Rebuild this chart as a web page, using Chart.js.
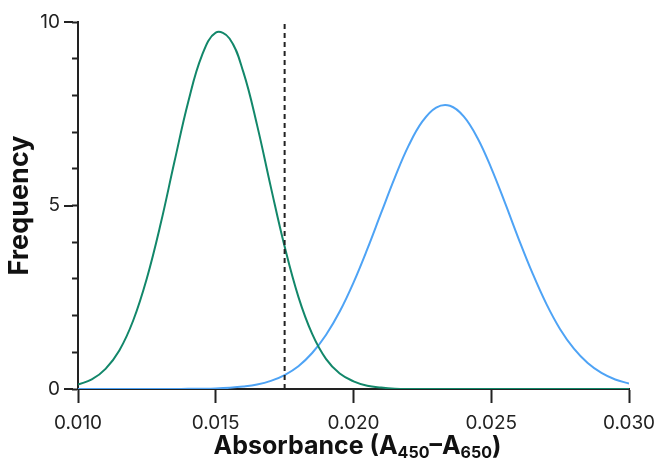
<!DOCTYPE html>
<html>
<head>
<meta charset="utf-8">
<script src="https://cdn.jsdelivr.net/npm/chart.js@4/dist/chart.umd.min.js"></script>
<style>
  html, body { margin: 0; padding: 0; background: #fff; }
  #wrap { width: 657px; height: 458px; position: relative; }
</style>
</head>
<body>
<div id="wrap"><canvas id="chart"></canvas></div>
<script>
const FONT = 'Inter, Roboto, "DejaVu Sans", sans-serif';

// x positions of the read-off points (absorbance)
const xs = [
  0.0100, 0.0105, 0.0110, 0.0115, 0.0120, 0.0125, 0.0130, 0.0135, 0.0140, 0.0145,
  0.0150, 0.0155, 0.0160, 0.0165, 0.0170, 0.0175, 0.0180, 0.0185, 0.0190, 0.0195,
  0.0200, 0.0205, 0.0210, 0.0215, 0.0220, 0.0225, 0.0230, 0.0235, 0.0240, 0.0245,
  0.0250, 0.0255, 0.0260, 0.0265, 0.0270, 0.0275, 0.0280, 0.0285, 0.0290, 0.0295,
  0.0300
];

// green curve (left population)
const greenFreq = [
  0.12, 0.26, 0.55, 1.05, 1.86, 3.02, 4.50, 6.19, 7.82, 9.09,
  9.71, 9.55, 8.64, 7.19, 5.50, 3.88, 2.51, 1.50, 0.82, 0.42,
  0.21, 0.09, 0.04, 0.01, 0, 0, 0, 0, 0, 0,
  0, 0, 0, 0, 0, 0, 0, 0, 0, 0,
  0
];

// blue curve (right population)
const blueFreq = [
  0, 0, 0, 0, 0, 0, 0.001, 0.002, 0.004, 0.008,
  0.016, 0.034, 0.066, 0.12, 0.22, 0.38, 0.62, 0.98, 1.47, 2.11,
  2.90, 3.81, 4.79, 5.76, 6.63, 7.29, 7.67, 7.72, 7.43, 6.84,
  6.02, 5.07, 4.08, 3.15, 2.32, 1.63, 1.10, 0.71, 0.44, 0.26,
  0.15
];

const cutoffX = 0.0175;
const xTicks = [0.010, 0.015, 0.020, 0.025, 0.030];
const yLabels = [0, 5, 10];

const toPts = ys => xs.map((x, i) => ({ x, y: ys[i] }));

// longer ticks for the labelled y values + x axis title with subscripts
const extras = {
  id: 'extras',
  afterDraw(chart) {
    const { ctx, scales: { y }, chartArea } = chart;
    ctx.save();
    ctx.strokeStyle = '#222';
    ctx.lineWidth = 2;
    yLabels.forEach(v => {
      const py = Math.round(y.getPixelForValue(v));
      ctx.beginPath();
      ctx.moveTo(chartArea.left - 14, py);
      ctx.lineTo(chartArea.left - 5, py);
      ctx.stroke();
    });

    const parts = [
      ['Absorbance (A', false], ['450', true], ['–A', false], ['650', true], [')', false]
    ];
    const big = 'bold 25px ' + FONT, small = 'bold 16px ' + FONT;
    let w = 0;
    parts.forEach(([t, sub]) => { ctx.font = sub ? small : big; w += ctx.measureText(t).width; });
    let cx = (chartArea.left + chartArea.right) / 2 + 4 - w / 2;
    const base = 454;
    ctx.fillStyle = '#111';
    ctx.textBaseline = 'alphabetic';
    parts.forEach(([t, sub]) => {
      ctx.font = sub ? small : big;
      ctx.fillText(t, cx, sub ? base + 4 : base);
      cx += ctx.measureText(t).width;
    });
    ctx.restore();
  }
};

new Chart(document.getElementById('chart'), {
  type: 'line',
  data: {
    datasets: [
      {
        label: 'green',
        data: toPts(greenFreq),
        borderColor: '#12876a',
        borderWidth: 2,
        pointRadius: 0,
        tension: 0.4,
        order: 1
      },
      {
        label: 'blue',
        data: toPts(blueFreq),
        borderColor: '#4ea3f5',
        borderWidth: 2,
        pointRadius: 0,
        tension: 0.4,
        order: 2
      },
      {
        label: 'cutoff',
        data: [{ x: cutoffX, y: 0 }, { x: cutoffX, y: 10 }],
        borderColor: '#222',
        borderWidth: 2,
        borderDash: [5, 4],
        pointRadius: 0,
        order: 0
      }
    ]
  },
  options: {
    responsive: true,
    maintainAspectRatio: false,
    animation: false,
    layout: { padding: { top: 22, right: 28, left: 0, bottom: 0 } },
    plugins: { legend: { display: false }, tooltip: { enabled: false } },
    scales: {
      x: {
        type: 'linear',
        min: 0.010,
        max: 0.030,
        afterFit: s => { s.height = 69; s.paddingLeft = 0; s.paddingRight = 0; },
        afterBuildTicks: s => { s.ticks = xTicks.map(v => ({ value: v })); },
        ticks: {
          callback: v => v.toFixed(3),
          color: '#222',
          font: { family: FONT, size: 19 },
          padding: 9,
          maxRotation: 0,
          autoSkip: false
        },
        grid: { drawOnChartArea: false, tickLength: 14, tickWidth: 2, tickColor: '#222' },
        border: { color: '#222', width: 2 }
      },
      y: {
        min: 0,
        max: 10,
        afterFit: s => { s.width = 78; s.paddingTop = 0; s.paddingBottom = 0; },
        ticks: {
          stepSize: 1,
          callback: v => (yLabels.includes(v) ? String(v) : ''),
          color: '#222',
          font: { family: FONT, size: 19 },
          padding: 12
        },
        title: {
          display: true,
          text: 'Frequency',
          color: '#111',
          font: { family: FONT, size: 27, weight: 'bold' },
          padding: { top: 4, bottom: 0 }
        },
        grid: { drawOnChartArea: false, tickLength: 6, tickWidth: 2, tickColor: '#222' },
        border: { color: '#222', width: 2 }
      }
    }
  },
  plugins: [extras]
});
</script>
</body>
</html>
